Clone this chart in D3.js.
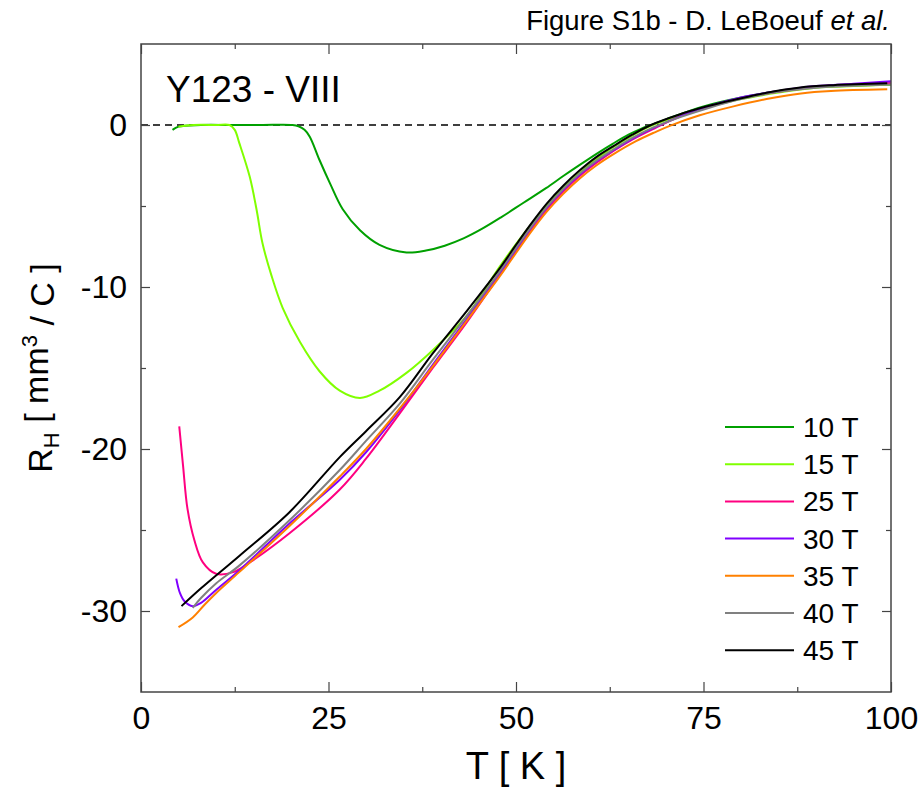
<!DOCTYPE html>
<html>
<head>
<meta charset="utf-8">
<script src="https://cdn.jsdelivr.net/npm/d3@7"></script>
<style>
  body { margin: 0; background: #fff; }
  text { font-family: "Liberation Sans", Arial, sans-serif; fill: #000; }
</style>
</head>
<body>
<div id="chart"></div>
<script>
// svg size
var svgWidth = 924;
var svgHeight = 793;

// plot box
var margin = { top: 44, right: 33, bottom: 101, left: 141 };
var width = svgWidth - margin.left - margin.right;
var height = svgHeight - margin.top - margin.bottom;

// field labels and colours
var fields = ["10 T", "15 T", "25 T", "30 T", "35 T", "40 T", "45 T"];
var colors = ["#00a000", "#80ff00", "#ff0080", "#8000ff", "#ff8000", "#808080", "#000000"];

// R_H (mm^3/C) vs T (K)
var rh10 = [[4.2,-0.3],[5,-0.1],[8,0],[12,0],[16,0],[20.2,0],[21,-0.08],[21.8,-0.3],[22.5,-0.72],[23.8,-2.16],[25.2,-3.6],[26.9,-5.2],[29.2,-6.5],[31.8,-7.4],[35.4,-7.87],[38,-7.75],[40.5,-7.45],[43,-7.0],[45.5,-6.4],[48,-5.7],[51,-4.8],[54,-3.9],[56.3,-3.15],[58.5,-2.46],[61,-1.7],[63,-1.13],[65,-0.6],[66.5,-0.27],[68.3,0.05],[70,0.35],[75,1.15],[80,1.7],[85,2.1],[90,2.35],[95,2.45],[100,2.5]];
var rh15 = [[5,-0.1],[7,0],[10,0],[11.8,0],[12.5,-0.3],[13.1,-1.1],[14.5,-3.2],[15.4,-5.2],[16.2,-7.3],[17.4,-9.3],[18.9,-11.3],[21.2,-13.4],[23.8,-15.2],[26.5,-16.4],[29.2,-16.85],[31.8,-16.4],[35.4,-15.3],[38.9,-13.9],[43.4,-11.8],[45.2,-10.6],[47.9,-8.7],[50,-7.35],[52,-6.15],[54.1,-5.0],[56.3,-3.9],[58.5,-2.95],[60.7,-2.1],[63,-1.35],[65.5,-0.65],[68,-0.05],[72,0.6],[76,1.15],[80,1.6],[85,2.0],[90,2.3],[95,2.4],[100,2.5]];
var rh25 = [[5.1,-18.6],[5.6,-21.0],[6.2,-23.7],[7.1,-25.6],[8.25,-27.0],[10,-27.7],[12.3,-27.6],[14.5,-27.0],[19.8,-25.2],[26.5,-22.5],[30,-20.6],[34.5,-17.8],[38.9,-15.0],[43.4,-12.2],[47.9,-9.2],[50,-7.8],[52,-6.45],[54.1,-5.2],[56.3,-4.1],[58.5,-3.15],[60.7,-2.35],[63,-1.6],[65.5,-0.9],[68.5,-0.2],[72,0.55],[76,1.15],[80,1.65],[85,2.05],[90,2.35],[95,2.5],[100,2.6]];
var rh30 = [[4.7,-28.0],[5.2,-28.9],[5.8,-29.4],[6.9,-29.7],[8,-29.5],[10,-28.7],[13.1,-27.5],[19.8,-24.6],[26.5,-21.9],[30,-20.2],[34.5,-17.6],[38.9,-14.8],[43.4,-12.0],[47.9,-9.1],[50,-7.7],[52,-6.35],[54.1,-5.1],[56.3,-4.0],[58.5,-3.05],[60.7,-2.25],[63,-1.55],[65.5,-0.85],[68.5,-0.15],[72,0.55],[76,1.2],[80,1.7],[85,2.1],[90,2.4],[95,2.55],[100,2.7]];
var rh35 = [[5,-31.0],[6.9,-30.4],[8.5,-29.6],[10,-28.9],[13.1,-27.6],[19.8,-24.75],[26.5,-21.7],[30,-20.0],[34.5,-17.5],[38.9,-14.9],[43.4,-12.1],[47.9,-9.3],[50,-7.9],[52,-6.6],[54.1,-5.35],[56.3,-4.25],[58.5,-3.3],[60.7,-2.5],[63,-1.8],[66,-1.0],[68.5,-0.45],[70.5,-0.05],[74.5,0.6],[79,1.15],[83.4,1.6],[88,1.95],[92,2.1],[99.5,2.2]];
var rh40 = [[6.9,-29.8],[8,-29.2],[10,-28.3],[13.1,-27.2],[19.8,-24.4],[26.5,-21.3],[30,-19.5],[34.5,-17.2],[38.9,-14.5],[43.4,-11.8],[47.9,-9.0],[50,-7.6],[52,-6.3],[54.1,-5.05],[56.3,-3.95],[58.5,-3.0],[60.7,-2.2],[63,-1.5],[65.5,-0.8],[68.3,-0.15],[72,0.5],[76,1.1],[80,1.6],[85,2.05],[90,2.3],[95,2.42],[100,2.5]];
var rh45 = [[5.4,-29.7],[8,-28.6],[13.1,-26.6],[19.8,-23.9],[26.5,-20.5],[30,-18.9],[34.5,-16.8],[38.9,-14.1],[43.4,-11.5],[47.9,-8.8],[50,-7.4],[52,-6.1],[54.1,-4.85],[56.3,-3.75],[58.5,-2.8],[60.7,-1.98],[63,-1.3],[65.5,-0.6],[68,0],[71.8,0.65],[74.5,1.03],[76.3,1.25],[79,1.54],[83.4,1.99],[87.9,2.32],[92.3,2.46],[99.5,2.57]];
var series = [rh10, rh15, rh25, rh30, rh35, rh40, rh45];

// axis ticks
var xMajor = [0, 25, 50, 75, 100];
var xMinor = [12.5, 37.5, 62.5, 87.5];
var yMajor = [0, -10, -20, -30];
var yMinor = [-5, -15, -25];

var svg = d3.select("#chart")
  .append("svg")
  .attr("width", svgWidth)
  .attr("height", svgHeight);

var chartGroup = svg.append("g")
  .attr("transform", `translate(${margin.left}, ${margin.top})`);

var xLinearScale = d3.scaleLinear().domain([0, 100]).range([0, width]);
var yLinearScale = d3.scaleLinear().domain([-35, 5]).range([height, 0]);

// zero line
chartGroup.append("line")
  .attr("x1", 0).attr("x2", width)
  .attr("y1", yLinearScale(0)).attr("y2", yLinearScale(0))
  .attr("stroke", "#000")
  .attr("stroke-width", 1.5)
  .attr("stroke-dasharray", "7,5");

// curves
var line = d3.line()
  .x(d => xLinearScale(d[0]))
  .y(d => yLinearScale(d[1]))
  .curve(d3.curveCatmullRom.alpha(0.5));

chartGroup.selectAll(".curve")
  .data(series)
  .enter()
  .append("path")
  .attr("class", "curve")
  .attr("d", line)
  .attr("fill", "none")
  .attr("stroke", (d, i) => colors[i])
  .attr("stroke-width", 2);

// plain hyphen minus like the original
var tickFmt = d => String(d);

// axes, ticks drawn inward on all four sides
function styleAxis(g) {
  g.select(".domain").remove();
  g.selectAll(".tick line").attr("stroke", "#444").attr("stroke-width", 1.2);
  g.selectAll(".tick text")
    .style("font-family", "'Liberation Sans', Arial, sans-serif")
    .style("font-size", "32px")
    .attr("fill", "#000");
}

chartGroup.append("g")
  .attr("transform", `translate(0, ${height})`)
  .call(d3.axisBottom(xLinearScale).tickValues(xMajor).tickSize(-10).tickPadding(14).tickFormat(tickFmt))
  .call(styleAxis);
chartGroup.append("g")
  .attr("transform", `translate(0, ${height})`)
  .call(d3.axisBottom(xLinearScale).tickValues(xMinor).tickSize(-5).tickFormat(""))
  .call(styleAxis);
chartGroup.append("g")
  .call(d3.axisTop(xLinearScale).tickValues(xMajor).tickSize(-10).tickFormat(""))
  .call(styleAxis);
chartGroup.append("g")
  .call(d3.axisTop(xLinearScale).tickValues(xMinor).tickSize(-5).tickFormat(""))
  .call(styleAxis);

chartGroup.append("g")
  .call(d3.axisLeft(yLinearScale).tickValues(yMajor).tickSize(-9).tickPadding(14).tickFormat(tickFmt))
  .call(styleAxis);
chartGroup.append("g")
  .call(d3.axisLeft(yLinearScale).tickValues(yMinor).tickSize(-5).tickFormat(""))
  .call(styleAxis);
chartGroup.append("g")
  .attr("transform", `translate(${width}, 0)`)
  .call(d3.axisRight(yLinearScale).tickValues(yMajor).tickSize(-9).tickFormat(""))
  .call(styleAxis);
chartGroup.append("g")
  .attr("transform", `translate(${width}, 0)`)
  .call(d3.axisRight(yLinearScale).tickValues(yMinor).tickSize(-5).tickFormat(""))
  .call(styleAxis);

// frame
chartGroup.append("rect")
  .attr("width", width)
  .attr("height", height)
  .attr("fill", "none")
  .attr("stroke", "#444")
  .attr("stroke-width", 1.5);

// legend
var legend = chartGroup.selectAll(".legend")
  .data(fields)
  .enter()
  .append("g")
  .attr("class", "legend")
  .attr("transform", (d, i) => `translate(584, ${383 + i * 37.2})`);

legend.append("line")
  .attr("x1", 0).attr("x2", 69)
  .attr("stroke", (d, i) => colors[i])
  .attr("stroke-width", 2);

legend.append("text")
  .attr("x", 78)
  .attr("dy", "0.36em")
  .style("font-size", "28px")
  .text(d => d);

// sample label
chartGroup.append("text")
  .attr("x", 25)
  .attr("y", 58)
  .style("font-size", "37px")
  .text("Y123 - VIII");

// axis titles
svg.append("text")
  .attr("x", margin.left + width / 2)
  .attr("y", 779)
  .attr("text-anchor", "middle")
  .style("font-size", "38px")
  .text("T [ K ]");

var yTitle = svg.append("text")
  .attr("transform", `translate(52, ${margin.top + height / 2}) rotate(-90)`)
  .attr("text-anchor", "middle")
  .style("font-size", "34px");
yTitle.append("tspan").text("R");
yTitle.append("tspan").attr("dy", "0.3em").style("font-size", "22px").text("H");
yTitle.append("tspan").attr("dy", "-0.3em").text(" [ mm");
yTitle.append("tspan").attr("dy", "-0.5em").style("font-size", "22px").text("3");
yTitle.append("tspan").attr("dy", "0.5em").text(" / C ]");

// figure caption
var caption = svg.append("text")
  .attr("x", 890)
  .attr("y", 30)
  .attr("text-anchor", "end")
  .style("font-size", "27.5px");
caption.append("tspan").text("Figure S1b - D. LeBoeuf ");
caption.append("tspan").style("font-style", "italic").text("et al.");
</script>
</body>
</html>
